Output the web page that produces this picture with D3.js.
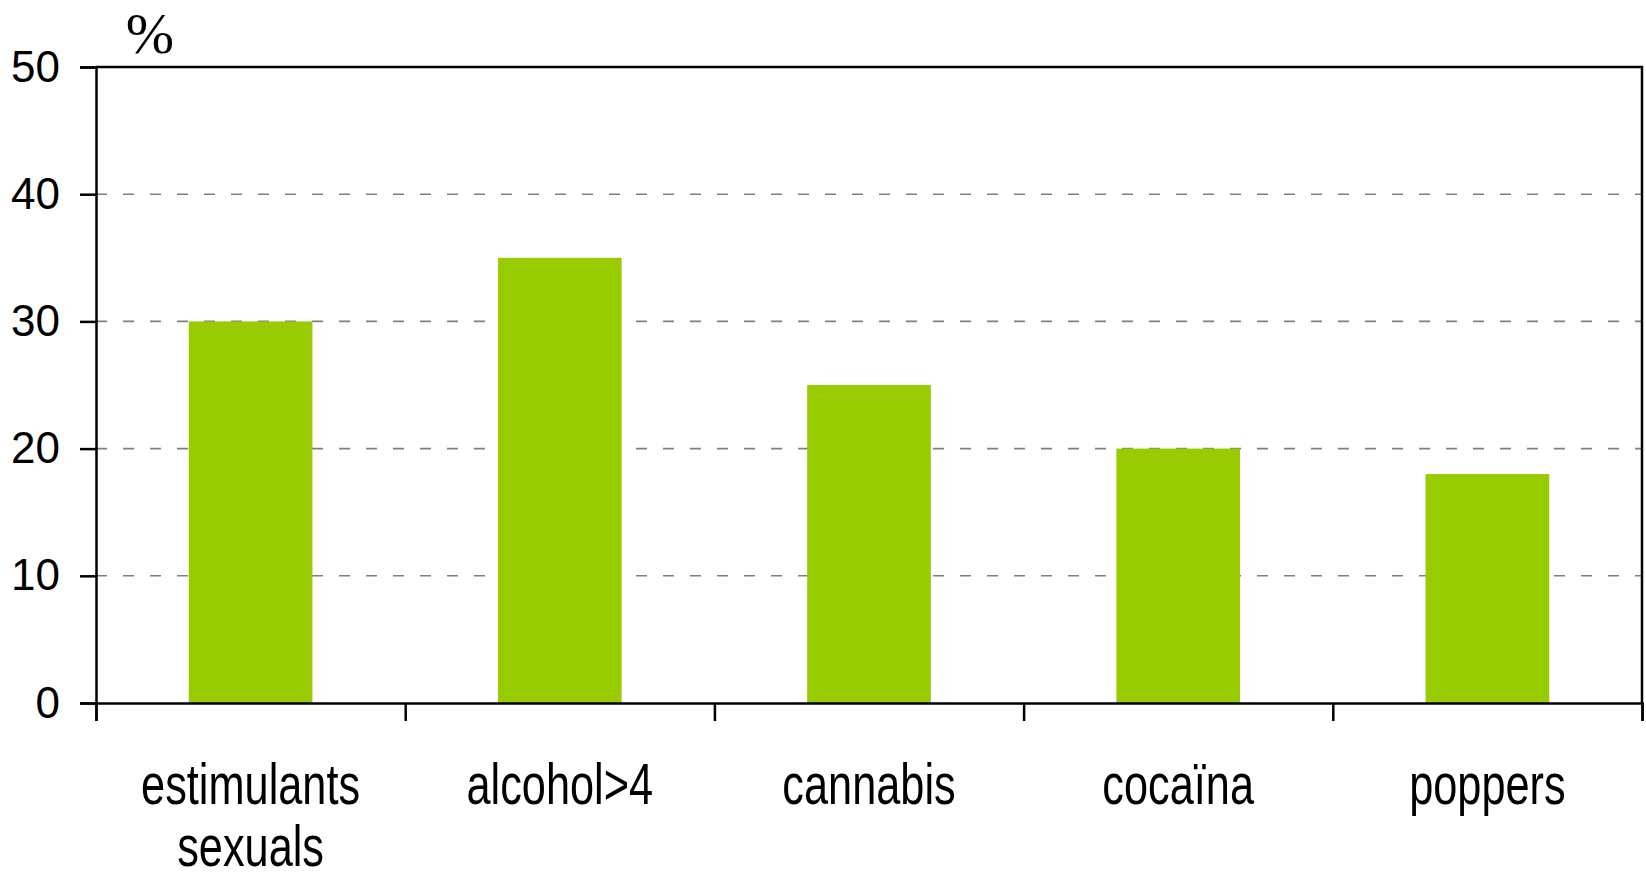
<!DOCTYPE html>
<html>
<head>
<meta charset="utf-8">
<script src="https://cdn.jsdelivr.net/npm/d3@7"></script>
<style>
  html, body { margin: 0; padding: 0; background: #fff; }
  svg { display: block; }
</style>
</head>
<body>
<svg id="chart" width="1646" height="879"></svg>
<script>
const categories = [["estimulants", "sexuals"], ["alcohol>4"], ["cannabis"], ["cocaïna"], ["poppers"]];
const values = [30, 35, 25, 20, 18];
const yTicks = [0, 10, 20, 30, 40, 50];

const width = 1646, height = 879;
const margin = { top: 67, right: 4, bottom: 176, left: 96 };

const svg = d3.select("#chart");

const x = d3.scaleBand()
  .domain(d3.range(categories.length))
  .range([margin.left, width - margin.right])
  .paddingInner(0.6)
  .paddingOuter(0.3);

const xEdge = d3.scaleLinear()
  .domain([0, categories.length])
  .range([margin.left, width - margin.right]);

const y = d3.scaleLinear()
  .domain([0, 50])
  .range([height - margin.bottom, margin.top]);

// dashed grid
svg.append("g")
  .selectAll("line")
  .data(yTicks.filter(d => d > 0 && d < 50))
  .join("line")
  .attr("x1", margin.left)
  .attr("x2", width - margin.right)
  .attr("y1", d => y(d))
  .attr("y2", d => y(d))
  .attr("stroke", "#7f7f7f")
  .attr("stroke-width", 1.6)
  .attr("stroke-dasharray", "11,16");

// bars
svg.append("g")
  .selectAll("rect")
  .data(values)
  .join("rect")
  .attr("x", (d, i) => x(i))
  .attr("width", x.bandwidth())
  .attr("y", d => y(d))
  .attr("height", d => y(0) - y(d))
  .attr("fill", "#99cc00");

// frame: top and right edges
svg.append("path")
  .attr("d", `M${margin.left},${y(50)}H${width - margin.right}V${y(0)}`)
  .attr("fill", "none")
  .attr("stroke", "#000")
  .attr("stroke-width", 2.5);

// y axis
const yAxis = svg.append("g")
  .attr("transform", `translate(${margin.left},0)`)
  .call(d3.axisLeft(y).tickValues(yTicks).tickSize(16).tickPadding(20));
yAxis.select(".domain").attr("stroke-width", 2.5);
yAxis.selectAll(".tick line").attr("stroke-width", 2.5);
yAxis.selectAll("text")
  .attr("font-family", "Liberation Sans, Arial, sans-serif")
  .attr("font-size", 44)
  .attr("fill", "#000");

// x axis (ticks at category boundaries)
const xAxis = svg.append("g")
  .attr("transform", `translate(0,${y(0)})`)
  .call(d3.axisBottom(xEdge).tickValues(d3.range(categories.length + 1)).tickSize(18).tickFormat(""));
xAxis.select(".domain").attr("stroke-width", 2.5);
xAxis.selectAll(".tick line").attr("stroke-width", 2.5);

// category labels (condensed by horizontal scaling)
const labels = svg.append("g")
  .selectAll("text")
  .data(categories)
  .join("text")
  .attr("transform", (d, i) => `translate(${x(i) + x.bandwidth() / 2},804) scale(0.76,1)`)
  .attr("text-anchor", "middle")
  .attr("font-family", "Liberation Sans, Arial, sans-serif")
  .attr("font-size", 57)
  .attr("fill", "#000");
labels.selectAll("tspan")
  .data(d => d)
  .join("tspan")
  .attr("x", 0)
  .attr("dy", (d, i) => i === 0 ? 0 : 62)
  .text(d => d);

// unit label
svg.append("text")
  .attr("x", 150)
  .attr("y", 53)
  .attr("text-anchor", "middle")
  .attr("font-family", "Liberation Serif, Times New Roman, serif")
  .attr("font-size", 58)
  .attr("fill", "#000")
  .text("%");
</script>
</body>
</html>
